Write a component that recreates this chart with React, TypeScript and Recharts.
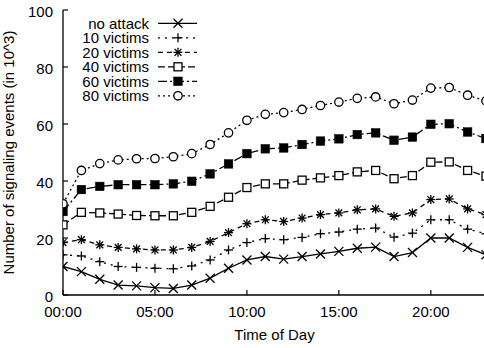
import React from 'react';
import { LineChart, Line, XAxis, YAxis, Legend } from 'recharts';

const hours = [0, 1, 2, 3, 4, 5, 6, 7, 8, 9, 10, 11, 12, 13, 14, 15, 16, 17, 18, 19, 20, 21, 22, 23];
const noAttack = [10.0, 8.2, 5.5, 3.5, 3.2, 2.6, 2.3, 3.5, 5.9, 9.4, 12.3, 13.5, 12.6, 13.5, 14.4, 15.3, 16.4, 16.8, 13.5, 14.9, 20.0, 20.0, 16.7, 14.1];
const victims10 = [14.1, 13.7, 11.7, 10.0, 9.7, 9.4, 9.2, 10.2, 12.3, 15.8, 18.4, 19.8, 19.4, 20.2, 21.5, 22.1, 23.1, 23.5, 20.3, 21.7, 26.4, 26.4, 23.1, 21.5];
const victims20 = [18.4, 19.4, 17.6, 16.7, 16.2, 15.8, 15.8, 16.7, 18.8, 21.9, 25.0, 26.4, 25.8, 27.0, 28.2, 28.8, 29.9, 30.2, 27.6, 28.8, 33.5, 33.7, 30.2, 28.2];
const victims40 = [24.6, 29.0, 28.8, 28.4, 27.9, 27.8, 27.8, 29.0, 31.1, 34.3, 37.7, 39.0, 39.0, 40.3, 41.1, 41.9, 43.2, 43.7, 40.8, 41.9, 46.6, 46.7, 43.7, 41.7];
const victims60 = [29.3, 37.0, 38.1, 38.7, 38.7, 38.7, 39.0, 39.9, 42.5, 46.0, 49.6, 51.3, 51.6, 52.8, 54.0, 54.8, 56.3, 56.9, 54.3, 55.4, 59.9, 60.1, 57.2, 54.9];
const victims80 = [32.0, 43.7, 46.1, 47.4, 47.8, 47.9, 48.5, 49.6, 52.8, 56.9, 61.3, 63.4, 64.0, 65.1, 66.5, 67.7, 69.0, 69.5, 67.1, 68.4, 72.6, 72.8, 70.1, 68.1];

const xTicks = [0, 5, 10, 15, 20];
const xTickLabels = ['00:00', '05:00', '10:00', '15:00', '20:00'];
const yTicks = [0, 20, 40, 60, 80, 100];

const seriesNames = ['no attack', '10 victims', '20 victims', '40 victims', '60 victims', '80 victims'];
const seriesKeys = ['a', 'v10', 'v20', 'v40', 'v60', 'v80'];
const seriesValues = [noAttack, victims10, victims20, victims40, victims60, victims80];
const seriesMarkers = ['cross', 'plus', 'star', 'square', 'fsquare', 'circle'];
const seriesDash = ['', '2 5', '5 4', '7 3', '9 3 2 3', '2 3'];

const data = hours.map((h, i) => {
  const row: any = { h };
  seriesKeys.forEach((k, j) => { row[k] = seriesValues[j][i]; });
  return row;
});

const FONT = '"Liberation Sans", Arial, Helvetica, sans-serif';
const FS = 15;
const SW = 1.3;

function Marker({ type, cx, cy }: { type: string; cx: number; cy: number }) {
  const s = 4.5;
  switch (type) {
    case 'cross':
      return (
        <g stroke="#000" strokeWidth={SW}>
          <line x1={cx - s} y1={cy - s} x2={cx + s} y2={cy + s} />
          <line x1={cx - s} y1={cy + s} x2={cx + s} y2={cy - s} />
        </g>
      );
    case 'plus':
      return (
        <g stroke="#000" strokeWidth={SW}>
          <line x1={cx - s} y1={cy} x2={cx + s} y2={cy} />
          <line x1={cx} y1={cy - s} x2={cx} y2={cy + s} />
        </g>
      );
    case 'star':
      return (
        <g stroke="#000" strokeWidth={SW}>
          <line x1={cx - s} y1={cy} x2={cx + s} y2={cy} />
          <line x1={cx} y1={cy - s} x2={cx} y2={cy + s} />
          <line x1={cx - 3.4} y1={cy - 3.4} x2={cx + 3.4} y2={cy + 3.4} />
          <line x1={cx - 3.4} y1={cy + 3.4} x2={cx + 3.4} y2={cy - 3.4} />
        </g>
      );
    case 'square':
      return <rect x={cx - 4} y={cy - 4} width={8} height={8} fill="#fff" stroke="#000" strokeWidth={SW} />;
    case 'fsquare':
      return <rect x={cx - 4.3} y={cy - 4.3} width={8.6} height={8.6} fill="#000" stroke="#000" strokeWidth={0.5} />;
    default:
      return <circle cx={cx} cy={cy} r={4.2} fill="#fff" stroke="#000" strokeWidth={SW} />;
  }
}

const makeDot = (type: string) => (props: any) => {
  if (props.cx == null || props.cy == null) return <g key={props.index} />;
  return <Marker key={props.index} type={type} cx={props.cx} cy={props.cy} />;
};

const BottomTick = (props: any) => {
  const { x, y, payload } = props;
  const idx = xTicks.indexOf(payload.value);
  return (
    <g>
      <line x1={x} y1={y} x2={x} y2={y - 5} stroke="#000" strokeWidth={1.2} />
      <text x={x} y={y + 22} textAnchor="middle" fontFamily={FONT} fontSize={FS} fill="#000">
        {idx >= 0 ? xTickLabels[idx] : ''}
      </text>
    </g>
  );
};

const TopTick = (props: any) => {
  const { x, y } = props;
  return <line x1={x} y1={y} x2={x} y2={y + 5} stroke="#000" strokeWidth={1.2} />;
};

const LeftTick = (props: any) => {
  const { x, y, payload } = props;
  return (
    <g>
      <line x1={x} y1={y} x2={x + 5} y2={y} stroke="#000" strokeWidth={1.2} />
      <text x={x - 10} y={y + 7} textAnchor="end" fontFamily={FONT} fontSize={FS} fill="#000">
        {payload.value}
      </text>
    </g>
  );
};

const RightTick = (props: any) => {
  const { x, y } = props;
  return <line x1={x} y1={y} x2={x - 5} y2={y} stroke="#000" strokeWidth={1.2} />;
};

const LegendContent = () => (
  <svg width={210} height={110} style={{ display: 'block' }}>
    {seriesNames.map((name, i) => {
      const cy = 23.3 + i * 14.5;
      return (
        <g key={name}>
          <text x={149} y={cy + 5.5} textAnchor="end" fontFamily={FONT} fontSize={FS} fill="#000">
            {name}
          </text>
          <line x1={158} y1={cy} x2={197} y2={cy} stroke="#000" strokeWidth={SW} strokeDasharray={seriesDash[i] || undefined} />
          <Marker type={seriesMarkers[i]} cx={178} cy={cy} />
        </g>
      );
    })}
  </svg>
);

export default function App() {
  return (
    <div style={{ position: 'absolute', left: 0, top: 0, width: 484, height: 348, overflow: 'hidden', background: '#fff' }}>
      <LineChart width={500} height={348} data={data} margin={{ top: 10, right: 14, bottom: 0, left: 0 }}>
        <XAxis
          dataKey="h"
          type="number"
          domain={[0, 23]}
          ticks={xTicks}
          interval={0}
          height={53}
          tickSize={0}
          tickMargin={0}
          tick={<BottomTick />}
          axisLine={{ stroke: '#000', strokeWidth: 1.3 }}
          tickLine={false}
          allowDataOverflow
        />
        <XAxis
          xAxisId="top"
          dataKey="h"
          type="number"
          orientation="top"
          domain={[0, 23]}
          ticks={xTicks}
          interval={0}
          height={0}
          tickSize={0}
          tickMargin={0}
          tick={<TopTick />}
          axisLine={{ stroke: '#000', strokeWidth: 1.3 }}
          tickLine={false}
        />
        <YAxis
          type="number"
          domain={[0, 100]}
          ticks={yTicks}
          interval={0}
          width={63}
          tickSize={0}
          tickMargin={0}
          tick={<LeftTick />}
          axisLine={{ stroke: '#000', strokeWidth: 1.3 }}
          tickLine={false}
        />
        <YAxis
          yAxisId="right"
          type="number"
          orientation="right"
          domain={[0, 100]}
          ticks={yTicks}
          interval={0}
          width={0}
          tickSize={0}
          tickMargin={0}
          tick={<RightTick />}
          axisLine={{ stroke: '#000', strokeWidth: 1.3 }}
          tickLine={false}
        />
        <Legend
          layout="vertical"
          align="center"
          verticalAlign="middle"
          content={<LegendContent />}
          wrapperStyle={{ position: 'absolute', left: 0, top: 0, width: 210, height: 110 }}
        />
        {seriesKeys.map((k, i) => (
          <Line
            key={k}
            dataKey={k}
            name={seriesNames[i]}
            stroke="#000"
            strokeWidth={SW}
            strokeDasharray={seriesDash[i] || undefined}
            type="linear"
            dot={makeDot(seriesMarkers[i])}
            activeDot={false}
            isAnimationActive={false}
          />
        ))}
        <text x={14} y={152.5} transform="rotate(-90 14 152.5)" textAnchor="middle" fontFamily={FONT} fontSize={FS} fill="#000">
          Number of signaling events (in 10^3)
        </text>
        <text x={274.5} y={340} textAnchor="middle" fontFamily={FONT} fontSize={FS} fill="#000">
          Time of Day
        </text>
      </LineChart>
    </div>
  );
}
